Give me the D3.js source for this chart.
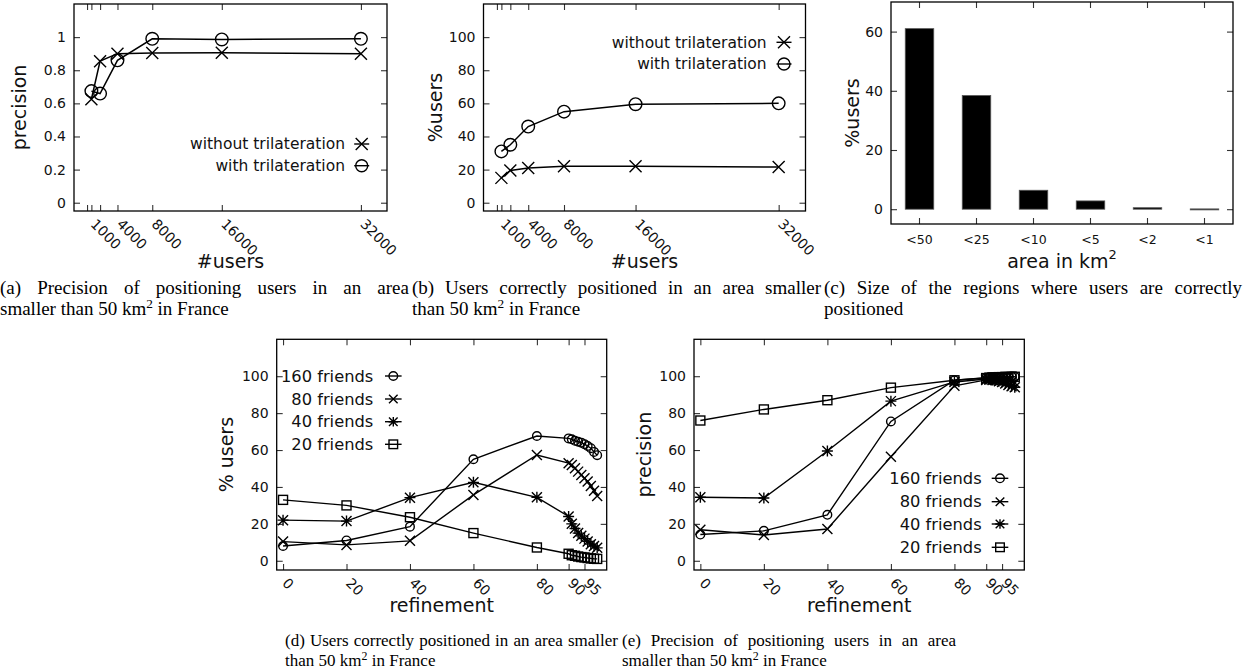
<!DOCTYPE html>
<head>
  <meta charset="utf-8">
  <script src="https://d3js.org/d3.v7.min.js"></script>
  <style>
    body { margin:0; background:white; }
    .tick text, .lab { font-family: 'DejaVu Sans', sans-serif; fill: #111; }
    .cap { font-family: 'Liberation Serif', 'Times New Roman', serif; fill: #000; }
  </style>
</head>
<body>
<script>
// ---- data ----
const users = [1000, 2000, 4000, 8000, 16000, 32000];
const usersTicks = [500, 1000, 2000, 4000, 8000, 16000, 32000];
const usersLabeled = [1000, 4000, 8000, 16000, 32000];

const precWithout = [0.625, 0.855, 0.9, 0.904, 0.905, 0.9];
const precWith    = [0.674, 0.659, 0.86, 0.99, 0.986, 0.99];

const pctWithout = [15, 19.5, 21, 22, 22, 21.5];
const pctWith    = [31, 35, 46, 55, 59.5, 60];

const areaCats = ['<50', '<25', '<10', '<5', '<2', '<1'];
const areaPct  = [61, 38.4, 6.4, 2.8, 0.5, 0.1];

const refinement = [0, 20, 40, 60, 80, 90, 91, 92, 93, 94, 95, 96, 97, 98, 99];
const refTicks = [0, 20, 40, 60, 80, 90, 95];

// (d) % users
const usersF160 = [8, 11, 18.5, 55, 67.6, 66.3, 65.8, 65, 64.5, 64, 63.2, 62.2, 61, 59, 57.2];
const usersF80  = [10.4, 8.6, 10.8, 35.7, 57.3, 52.9, 51.9, 50.1, 48.3, 46.5, 44.7, 42.9, 40.5, 38, 35.1];
const usersF40  = [22, 21.5, 34.2, 42.5, 34.4, 24, 20, 17.5, 15, 13.5, 12, 10.5, 9, 8, 7];
const usersF20  = [33, 30, 23.6, 15, 7.2, 3.8, 3, 2.7, 2.3, 2, 1.8, 1.5, 1.3, 1.1, 1];

// (e) precision
const precF160 = [14.2, 16.2, 24.9, 75.5, 97.8, 99.2, 99.4, 99.5, 99.6, 99.6, 99.7, 99.7, 99.7, 99.8, 99.8];
const precF80  = [16.8, 14, 17.2, 56.4, 94.8, 98, 98.2, 98.3, 98.3, 98.2, 98, 97.8, 97.5, 97, 96.5];
const precF40  = [34.4, 34, 59.5, 86.5, 96.9, 98.5, 98.3, 98, 97.8, 97.3, 96.8, 96, 95.3, 94.6, 94];
const precF20  = [76, 82, 87, 93.8, 97.8, 99, 99.2, 99.3, 99.4, 99.5, 99.5, 99.6, 99.6, 99.7, 99.7];

const friendNames = ['160 friends', '80 friends', '40 friends', '20 friends'];
const friendMarks = ['circle', 'x', 'star', 'square'];

// ---- drawing ----
const svg = d3.select('body').append('svg')
  .attr('width', 1243).attr('height', 672)
  .style('background', 'white');

function marker(g, type, cx, cy, s) {
  let el;
  if (type === 'circle') {
    el = g.append('circle').attr('cx', cx).attr('cy', cy).attr('r', s);
  } else if (type === 'square') {
    el = g.append('rect').attr('x', cx - s).attr('y', cy - s).attr('width', 2 * s).attr('height', 2 * s);
  } else {
    let d = `M${cx - s},${cy - s}L${cx + s},${cy + s}M${cx - s},${cy + s}L${cx + s},${cy - s}`;
    if (type === 'star') d += `M${cx - s * 1.1},${cy}L${cx + s * 1.1},${cy}M${cx},${cy - s * 1.1}L${cx},${cy + s * 1.1}`;
    el = g.append('path').attr('d', d);
  }
  el.attr('stroke', '#000').attr('stroke-width', 1.4).attr('fill', 'none');
}

function frame(x, y, o) {
  const g = svg.append('g');
  const [xl, xr] = o.box[0];
  const [yb, yt] = o.box[1];
  const fs = o.tickFont || 14;

  const left = g.append('g').attr('transform', `translate(${xl},0)`)
    .call(d3.axisLeft(y).tickValues(o.yTicks).tickSize(-6).tickPadding(8).tickFormat(o.yFormat || (d => d)));
  const right = g.append('g').attr('transform', `translate(${xr},0)`)
    .call(d3.axisRight(y).tickValues(o.yTicks).tickSize(-6).tickFormat(''));
  const top = g.append('g').attr('transform', `translate(0,${yt})`)
    .call(o.xTicks ? d3.axisTop(x).tickValues(o.xTicks).tickSize(-6).tickFormat('') : d3.axisTop(x).tickSize(-6).tickFormat(''));
  const bottom = g.append('g').attr('transform', `translate(0,${yb})`)
    .call(o.xTicks ? d3.axisBottom(x).tickValues(o.xTicks).tickSize(-6).tickPadding(10).tickFormat(o.xFormat)
                   : d3.axisBottom(x).tickSize(-6).tickPadding(10));
  [left, right, top, bottom].forEach(a => {
    a.select('.domain').remove();
    a.selectAll('.tick line').attr('stroke', '#333').attr('stroke-width', 1.1);
    a.selectAll('.tick text').attr('font-size', fs).attr('font-family', 'DejaVu Sans').attr('fill', '#111');
  });
  if (o.rotateX) {
    bottom.selectAll('.tick text')
      .attr('text-anchor', 'start').attr('y', 0).attr('x', 0).attr('dy', '0.71em')
      .attr('transform', 'translate(5,7) rotate(45)');
  } else if (o.bandFont) {
    bottom.selectAll('.tick text').attr('font-size', o.bandFont).attr('dy', '0.8em');
  }
  g.append('rect').attr('x', xl).attr('y', yt).attr('width', xr - xl).attr('height', yb - yt)
    .attr('fill', 'none').attr('stroke', '#000').attr('stroke-width', 1.3);

  // axis titles
  g.append('text').attr('class', 'lab').attr('font-size', 19)
    .attr('transform', `translate(${o.yLab[0]},${(yt + yb) / 2}) rotate(-90)`)
    .attr('text-anchor', 'middle').text(o.yTitle);
  const xt = g.append('text').attr('class', 'lab').attr('font-size', 19)
    .attr('x', (xl + xr) / 2).attr('y', o.xLab).attr('text-anchor', 'middle');
  xt.append('tspan').text(o.xTitle);
  if (o.xSup) xt.append('tspan').attr('font-size', 13).attr('dy', -9).text(o.xSup);
  return g;
}

function series(g, x, y, xs, ys, type, s, sw) {
  const pts = xs.map((d, i) => [d, ys[i]]);
  g.append('path').datum(pts)
    .attr('d', d3.line().x(d => x(d[0])).y(d => y(d[1])))
    .attr('fill', 'none').attr('stroke', '#000').attr('stroke-width', sw);
  pts.forEach(d => marker(g, type, x(d[0]), y(d[1]), s));
}

function legend(g, items, textEnd, markX, rows, fs, s, half) {
  items.forEach((it, i) => {
    g.append('text').attr('class', 'lab').attr('font-size', fs)
      .attr('x', textEnd).attr('y', rows[i]).attr('dy', '0.35em')
      .attr('text-anchor', 'end').text(it.name);
    g.append('line').attr('x1', markX - half).attr('x2', markX + half)
      .attr('y1', rows[i]).attr('y2', rows[i]).attr('stroke', '#000').attr('stroke-width', 1.4);
    marker(g, it.mark, markX, rows[i], s);
  });
}

const usersFmt = d => usersLabeled.includes(d) ? d : '';
const markSize = m => m === 'circle' ? 4.3 : m === 'square' ? 4.5 : 5;

// (a) precision vs #users
{
  const x = d3.scaleLinear().domain([-1000, 35000]).range([74, 387]);
  const y = d3.scaleLinear().domain([-0.05, 1.2]).range([211, 4]);
  const g = frame(x, y, {box: [[74, 387], [211, 4]], yTicks: [0, 0.2, 0.4, 0.6, 0.8, 1],
    xTicks: usersTicks, xFormat: usersFmt, rotateX: true,
    yTitle: 'precision', yLab: [26], xTitle: '#users', xLab: 268});
  series(g, x, y, users, precWithout, 'x', 6, 1.5);
  series(g, x, y, users, precWith, 'circle', 6.3, 1.5);
  legend(g, [{name: 'without trilateration', mark: 'x'}, {name: 'with trilateration', mark: 'circle'}],
    345, 361.7, [144, 165.7], 15.5, 6, 7.5);
}

// (b) %users vs #users
{
  const x = d3.scaleLinear().domain([-1000, 35000]).range([483.5, 805.5]);
  const y = d3.scaleLinear().domain([-5, 120]).range([211, 4]);
  const g = frame(x, y, {box: [[483.5, 805.5], [211, 4]], yTicks: [0, 20, 40, 60, 80, 100],
    xTicks: usersTicks, xFormat: usersFmt, rotateX: true,
    yTitle: '%users', yLab: [442], xTitle: '#users', xLab: 268});
  series(g, x, y, users, pctWithout, 'x', 6, 1.5);
  series(g, x, y, users, pctWith, 'circle', 6.3, 1.5);
  legend(g, [{name: 'without trilateration', mark: 'x'}, {name: 'with trilateration', mark: 'circle'}],
    766.7, 784, [42.3, 64], 15.5, 6, 7.5);
}

// (c) bars
{
  const x = d3.scaleBand().domain(areaCats).range([891, 1233]).paddingInner(0.5).paddingOuter(0.25);
  const y = d3.scaleLinear().domain([-5, 70]).range([224, 2]);
  const g = frame(x, y, {box: [[891, 1233], [224, 2]], yTicks: [0, 20, 40, 60],
    bandFont: 12.5, yTitle: '%users', yLab: [859], xTitle: 'area in km', xSup: '2', xLab: 268});
  g.selectAll('rect.bar').data(areaCats).enter().append('rect').attr('class', 'bar')
    .attr('x', d => x(d)).attr('width', x.bandwidth())
    .attr('y', (d, i) => y(areaPct[i])).attr('height', (d, i) => Math.max(1, y(0) - y(areaPct[i])))
    .attr('fill', '#000').attr('stroke', '#555').attr('stroke-width', 0.8);
}

// (d) % users vs refinement
{
  const x = d3.scaleLinear().domain([-2, 102]).range([276.7, 606.7]);
  const y = d3.scaleLinear().domain([-5, 120]).range([570, 339.3]);
  const g = frame(x, y, {box: [[276.7, 606.7], [570, 339.3]], yTicks: [0, 20, 40, 60, 80, 100],
    xTicks: refTicks, xFormat: d => d, rotateX: true,
    yTitle: '% users', yLab: [233], xTitle: 'refinement', xLab: 612});
  [usersF160, usersF80, usersF40, usersF20].forEach((ys, i) =>
    series(g, x, y, refinement, ys, friendMarks[i], markSize(friendMarks[i]), 1.4));
  legend(g, friendNames.map((n, i) => ({name: n, mark: friendMarks[i]})),
    373.3, 393.3, [376, 399, 421.7, 444.3], 16.3, 4.3, 8.3);
}

// (e) precision vs refinement
{
  const x = d3.scaleLinear().domain([-2, 102]).range([694, 1024.3]);
  const y = d3.scaleLinear().domain([-5, 120]).range([570, 339.3]);
  const g = frame(x, y, {box: [[694, 1024.3], [570, 339.3]], yTicks: [0, 20, 40, 60, 80, 100],
    xTicks: refTicks, xFormat: d => d, rotateX: true,
    yTitle: 'precision', yLab: [651], xTitle: 'refinement', xLab: 612});
  [precF160, precF80, precF40, precF20].forEach((ys, i) =>
    series(g, x, y, refinement, ys, friendMarks[i], markSize(friendMarks[i]), 1.4));
  legend(g, friendNames.map((n, i) => ({name: n, mark: friendMarks[i]})),
    981.7, 1000, [478.3, 501.7, 524, 547.3], 16.3, 4.3, 8.3);
}

// ---- captions (first line justified through word spacing) ----
function caption(x, y, fs, line1, width1, line2, y2) {
  const t1 = svg.append('text').attr('class', 'cap').attr('font-size', fs)
    .attr('x', x).attr('y', y).text(line1);
  const natural = t1.node().getComputedTextLength();
  const gaps = line1.split(' ').length - 1;
  if (natural < width1) t1.attr('word-spacing', (width1 - natural) / gaps);
  else t1.attr('textLength', width1).attr('lengthAdjust', 'spacingAndGlyphs');
  const t = svg.append('text').attr('class', 'cap').attr('font-size', fs).attr('x', x).attr('y', y2);
  line2.forEach(p => {
    const s = t.append('tspan').text(p.t);
    if (p.sup) s.attr('font-size', fs * 0.7).attr('dy', -fs * 0.38);
    if (p.after) s.attr('dy', fs * 0.38);
  });
}
caption(0, 294, 19, '(a) Precision of positioning users in an area', 409,
  [{t: 'smaller than 50 km'}, {t: '2', sup: true}, {t: ' in France', after: true}], 315);
caption(412, 294, 19, '(b) Users correctly positioned in an area smaller', 409,
  [{t: 'than 50 km'}, {t: '2', sup: true}, {t: ' in France', after: true}], 315);
caption(824, 294, 19, '(c) Size of the regions where users are correctly', 418,
  [{t: 'positioned'}], 315);
caption(285, 646, 17, '(d) Users correctly positioned in an area smaller', 333,
  [{t: 'than 50 km'}, {t: '2', sup: true}, {t: ' in France', after: true}], 666);
caption(622, 646, 17, '(e) Precision of positioning users in an area', 334,
  [{t: 'smaller than 50 km'}, {t: '2', sup: true}, {t: ' in France', after: true}], 666);
</script>
</body>
